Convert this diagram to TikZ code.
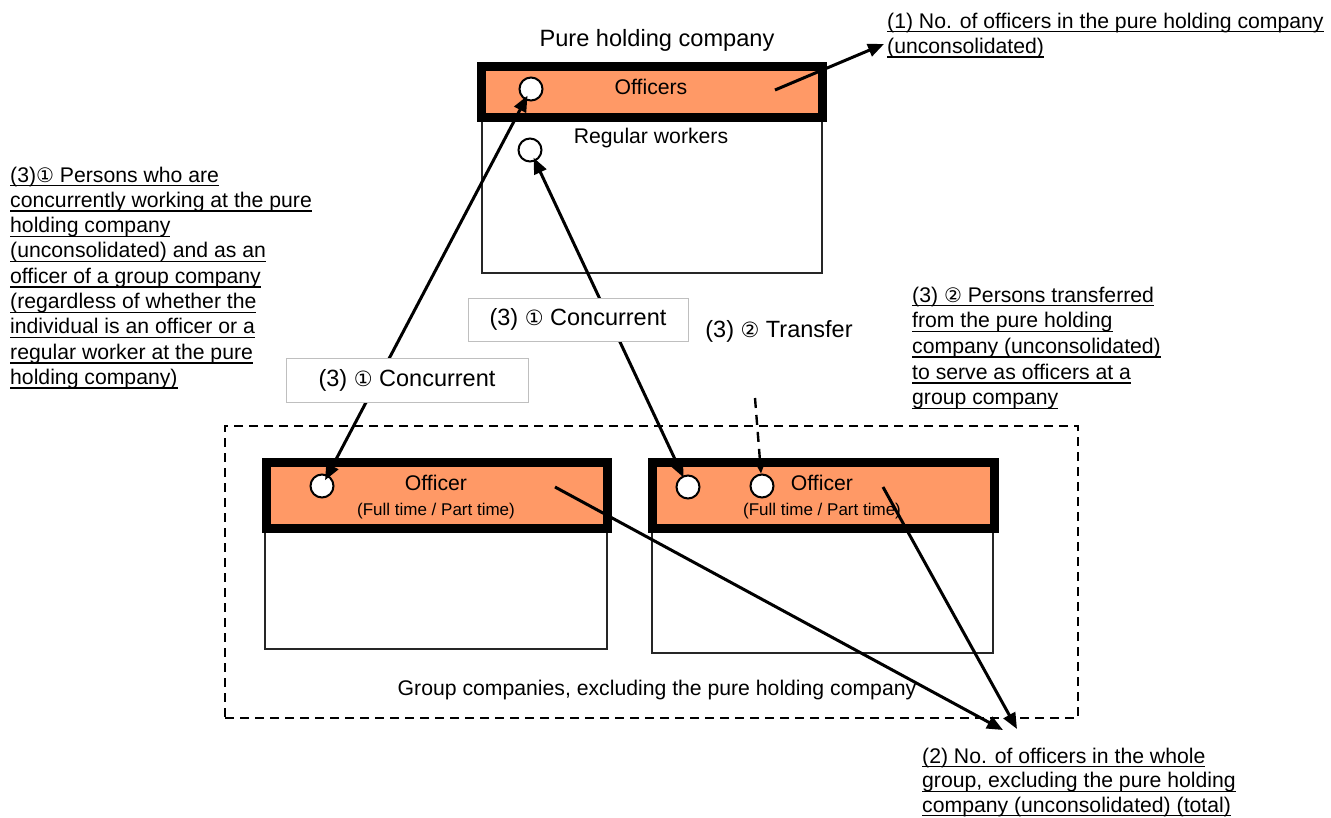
\documentclass[tikz,border=0pt]{standalone}
\usepackage{fontspec}
\setmainfont{Liberation Sans}
\newfontfamily\djv{DejaVu Sans}
\usetikzlibrary{arrows.meta}
\definecolor{orng}{RGB}{255,153,102}
\newcommand\cdig[2][19]{{\djv\fontsize{#1}{#1}\selectfont #2}}
\newcommand\ulx[1]{\setbox0\hbox{#1}\rlap{\rule[-4.4pt]{\wd0}{1.4pt}}\box0}
\begin{document}
\begin{tikzpicture}[x=1pt,y=-1pt,
  every node/.style={font=\fontsize{21.2}{25.3}\selectfont, inner sep=0pt},
  band/.style={draw=black, fill=orng, line width=9pt, rectangle},
  wbox/.style={draw=black!85, fill=white, line width=1.8pt, rectangle},
  dot/.style={circle, draw=black, fill=white, line width=2pt, minimum size=23pt},
  lbl/.style={draw=black!25, fill=white, line width=1pt, rectangle, font=\fontsize{23.5}{28}\selectfont},
  tip/.tip={Triangle[length=16pt,width=13pt]},
  arr/.style={line width=3pt, -tip},
  darr/.style={line width=3pt, tip-tip},
  grp/.style={draw=black, line width=2.4pt, dash pattern=on 9pt off 6pt},
]
\useasboundingbox (0,0) rectangle (1331,817);

% group frame
\node[grp, rectangle, minimum width=853pt, minimum height=292pt] (frame) at (651.5,572) {};
\node (grptxt) at (657,690) {Group companies, excluding the pure holding company};

% pure holding company
\node[font=\fontsize{23.6}{28}\selectfont] (title) at (657,40) {Pure holding company};
\node[wbox, minimum width=340pt, minimum height=156pt] (hwhite) at (652,195) {};
\node[band, minimum width=341.5pt, minimum height=51pt] (hband) at (651.75,92) {};
\node (hoff) at (651,87) {Officers};
\node (hreg) at (651,138) {Regular workers};
\node[dot] (hc1) at (531,89) {};
\node[dot] (hc2) at (530,150) {};

% left group company
\node[wbox, minimum width=342pt, minimum height=122pt] (lwhite) at (436,588) {};
\node[band, minimum width=341.5pt, minimum height=66pt] (lband) at (436.75,495) {};
\node (loff) at (436,483) {Officer};
\node[font=\fontsize{17}{20}\selectfont] (lft) at (436,511) {(Full time / Part time)};
\node[dot] (lc1) at (322,486) {};

% right group company
\node[wbox, minimum width=341pt, minimum height=126pt] (rwhite) at (822.5,590) {};
\node[band, minimum width=342pt, minimum height=66pt] (rband) at (823,495) {};
\node (roff) at (822,483) {Officer};
\node[font=\fontsize{17}{20}\selectfont] (rft) at (822,511) {(Full time / Part time)};
\node[dot] (rc1) at (688,487) {};
\node[dot] (rc2) at (762,486) {};

% annotation texts
\node[anchor=north west, align=left] (t1) at (887,12.5)
  {\ulx{(1) No. of officers in the pure holding company}\\\ulx{(unconsolidated)}};
\node[anchor=north west, align=left] (t3a) at (10,166.5)
  {\ulx{(3)\cdig[20]{①} Persons who are}\\
   \ulx{concurrently working at the pure}\\
   \ulx{holding company}\\
   \ulx{(unconsolidated) and as an}\\
   \ulx{officer of a group company}\\
   \ulx{(regardless of whether the}\\
   \ulx{individual is an officer or a}\\
   \ulx{regular worker at the pure}\\
   \ulx{holding company)}};
\node[anchor=north west, align=left, font=\fontsize{21.2}{25.7}\selectfont] (t3b) at (912,286.5)
  {\ulx{(3) \cdig[20]{②} Persons transferred}\\
   \ulx{from the pure holding}\\
   \ulx{company (unconsolidated)}\\
   \ulx{to serve as officers at a}\\
   \ulx{group company}};
\node[anchor=north west, align=left, font=\fontsize{21.2}{24.5}\selectfont] (t2) at (922,747.5)
  {\ulx{(2) No. of officers in the whole}\\
   \ulx{group, excluding the pure holding}\\
   \ulx{company (unconsolidated) (total)}};

% connector end points
\coordinate (hs) at (775,90);
\coordinate (e1) at (884,44);
\coordinate (ls) at (555,487);
\coordinate (rs) at (883,487);
\coordinate (e2a) at (1003,730);
\coordinate (e2b) at (1017,729);
\coordinate (trs) at (755,398);

% connectors
\draw[arr] (hs) -- (e1);
\draw[darr, shorten <=-6pt, shorten >=-5pt] (lc1) -- (hc1);
\draw[darr, shorten <=-2pt, shorten >=-4pt] (rc1) -- (hc2);
\draw[line width=2.4pt, dash pattern=on 10pt off 7pt, -{Triangle[length=15pt,width=13pt]}] (trs) -- (rc2);
\draw[arr] (ls) -- (e2a);
\draw[arr] (rs) -- (e2b);

% labels on connectors
\node[lbl, minimum width=242pt, minimum height=44pt] (cc1) at (407,380) {(3) \cdig[21]{①} Concurrent};
\node[lbl, minimum width=220pt, minimum height=43pt] (cc2) at (578,319.5) {(3) \cdig[21]{①} Concurrent};
\node[font=\fontsize{23.5}{28}\selectfont] (tr) at (779,331) {(3) \cdig[21]{②} Transfer};
\end{tikzpicture}
\end{document}
